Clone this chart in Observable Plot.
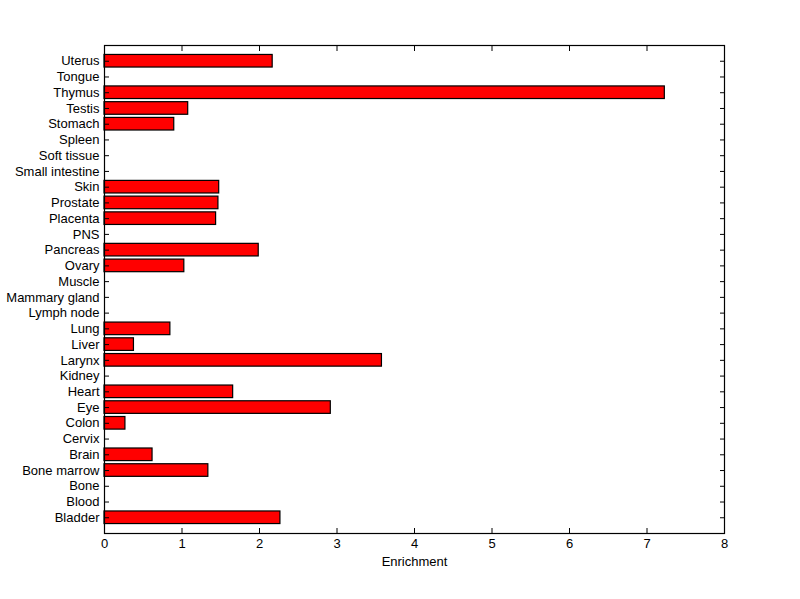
<!DOCTYPE html>
<html>
<head>
<meta charset="utf-8">
<script src="https://cdn.jsdelivr.net/npm/d3@7"></script>
<script src="https://cdn.jsdelivr.net/npm/@observablehq/plot@0.6"></script>
<style>
  html, body { margin: 0; padding: 0; background: #fff; }
  #chart svg { display: block; }
</style>
</head>
<body>
<div id="chart"></div>
<script>
// Categories listed bottom to top
const tissues = [
  "Bladder", "Blood", "Bone", "Bone marrow", "Brain", "Cervix", "Colon", "Eye",
  "Heart", "Kidney", "Larynx", "Liver", "Lung", "Lymph node", "Mammary gland",
  "Muscle", "Ovary", "Pancreas", "PNS", "Placenta", "Prostate", "Skin",
  "Small intestine", "Soft tissue", "Spleen", "Stomach", "Testis", "Thymus",
  "Tongue", "Uterus"
];
const enrichment = [
  2.27, 0, 0, 1.34, 0.62, 0, 0.27, 2.92,
  1.66, 0, 3.58, 0.38, 0.85, 0, 0,
  0, 1.03, 1.99, 0, 1.44, 1.47, 1.48,
  0, 0, 0, 0.90, 1.08, 7.23,
  0, 2.17
];
const xTicks = [0, 1, 2, 3, 4, 5, 6, 7, 8];
const xLabel = "Enrichment";

const data = tissues.map((t, i) => ({tissue: t, value: enrichment[i]}));
const domainTopDown = tissues.slice().reverse();

const chart = Plot.plot({
  width: 800,
  height: 599,
  marginLeft: 104,
  marginRight: 76,
  marginTop: 45,
  marginBottom: 66,
  style: {fontFamily: "Arial, 'Liberation Sans', Helvetica, sans-serif", fontSize: "13px", color: "#000", background: "#fff"},
  x: {domain: [0, 8]},
  y: {domain: domainTopDown, paddingInner: 0.2, paddingOuter: 0.6, round: false},
  marks: [
    Plot.barX(data.filter(d => d.value > 0), {
      x: "value", y: "tissue", fill: "#ff0000", stroke: "#000", strokeWidth: 1.2
    }),
    Plot.frame({stroke: "#000", strokeWidth: 1.2}),
    Plot.axisY({anchor: "left", tickSize: -5, tickPadding: 10, label: null, stroke: "#000", fontSize: 13}),
    Plot.axisY({anchor: "right", tickSize: -5, tickFormat: () => "", label: null, stroke: "#000"}),
    Plot.axisX({anchor: "bottom", ticks: xTicks, tickSize: -5, tickPadding: 10, label: xLabel, labelAnchor: "center", labelArrow: "none", labelOffset: 32, stroke: "#000", fontSize: 13}),
    Plot.axisX({anchor: "top", ticks: xTicks, tickSize: -5, tickFormat: () => "", label: null, stroke: "#000"})
  ]
});
document.getElementById("chart").appendChild(chart);
</script>
</body>
</html>
